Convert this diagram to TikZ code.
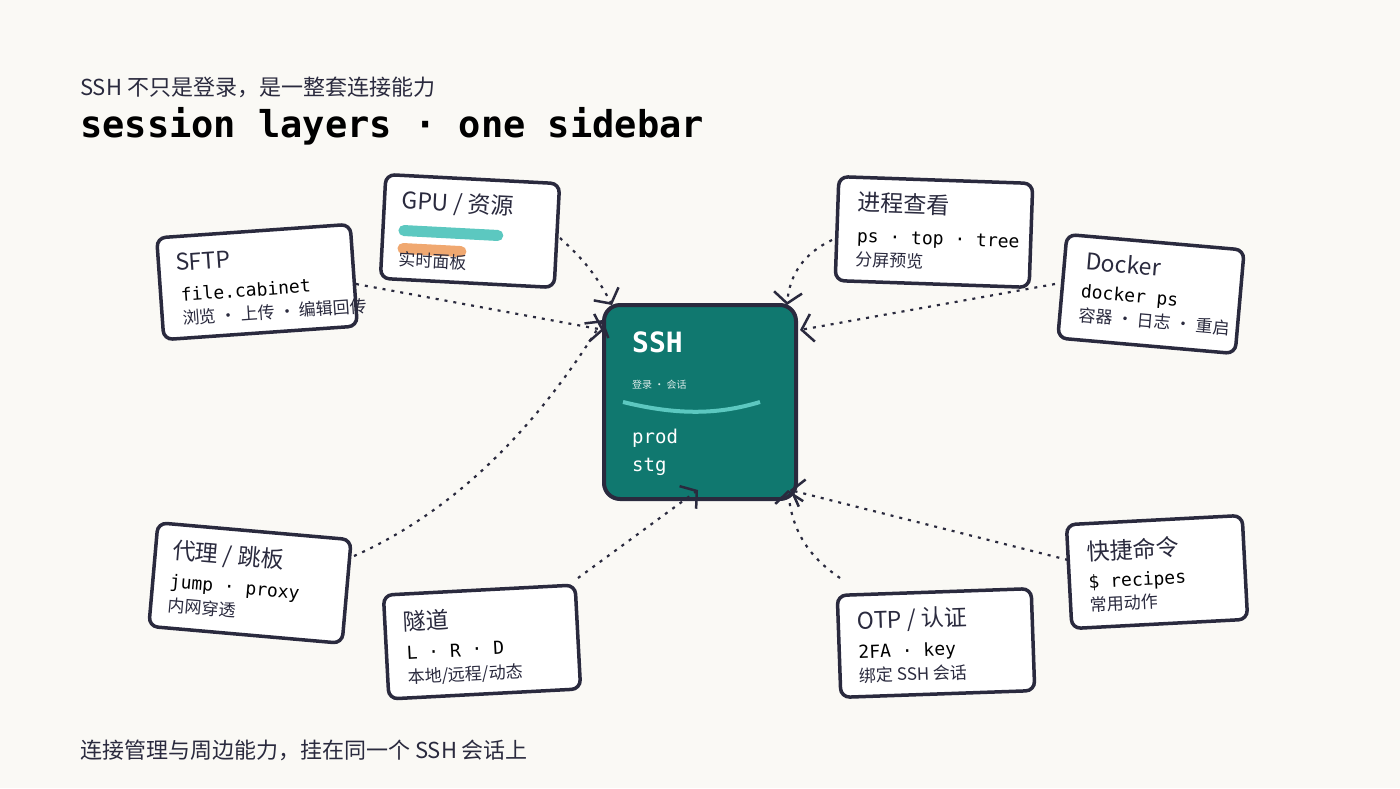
\documentclass[tikz,border=0pt]{standalone}
\usepackage{fontspec}
\setmainfont{Noto Sans CJK SC}
\setsansfont{Noto Sans CJK SC}
\setmonofont{DejaVu Sans Mono}
\usetikzlibrary{arrows.meta}
\definecolor{bg}{HTML}{FAF9F5}
\definecolor{ink}{HTML}{2A2A3E}
\definecolor{tealbox}{HTML}{10786F}
\definecolor{lteal}{HTML}{5CC8C0}
\definecolor{orng}{HTML}{F0A870}
\begin{document}
\begin{tikzpicture}[x=1pt,y=-1pt,
  card/.style={draw=ink,line width=3.5pt,fill=white,rounded corners=9pt,inner sep=0pt},
  ttl/.style={anchor=north west,inner sep=0pt,font=\fontsize{23}{25}\selectfont,text=ink},
  mono/.style={anchor=north west,inner sep=0pt,font=\ttfamily\fontsize{18}{20}\selectfont,text=black},
  sm/.style={anchor=north west,inner sep=0pt,font=\fontsize{17}{19}\selectfont,text=ink},
  conn/.style={ink,line width=2.2pt,dash pattern=on 3pt off 6pt,-{Straight Barb[length=11pt,width=28pt,line width=2.5pt]}}]
\fill[bg] (0,0) rectangle (1400,788);
\useasboundingbox (0,0) rectangle (1400,788);
\node[anchor=base west,inner sep=0pt,font=\fontsize{22}{24}\selectfont,text=ink] (sub) at (80,95) {SSH 不只是登录，是一整套连接能力};
\node[anchor=base west,inner sep=0pt,font=\ttfamily\bfseries\fontsize{37}{40}\selectfont] (title) at (80,137) {session layers · one sidebar};
\node[anchor=base west,inner sep=0pt,font=\fontsize{22}{24}\selectfont,text=ink] (foot) at (80,758) {连接管理与周边能力，挂在同一个 SSH 会话上};

% SSH center
\node[draw=ink,line width=4pt,fill=tealbox,rounded corners=16pt,minimum width=192pt,minimum height=194pt] (ssh) at (700,402) {};
\node[anchor=base west,inner sep=0pt,text=white,font=\ttfamily\bfseries\fontsize{28}{30}\selectfont] (sshT) at (632,352) {SSH};
\node[anchor=base west,inner sep=0pt,text=white!85!tealbox,font=\fontsize{10}{12}\selectfont] (sshS) at (632,388) {登录 · 会话};
\draw[lteal,line width=4pt] (623,402) .. controls (680,416) and (720,414) .. (760,402);
\node[anchor=base west,inner sep=0pt,text=white,font=\ttfamily\fontsize{19}{22}\selectfont] (prod) at (632,443) {prod};
\node[anchor=base west,inner sep=0pt,text=white,font=\ttfamily\fontsize{19}{22}\selectfont] (stg) at (632,471) {stg};

% SFTP
\begin{scope}[shift={(257,282)},rotate=4,transform shape]
\node[card,minimum width=194pt,minimum height=102pt] (sftp) at (0,0) {};
\node[ttl] at (-80,-34) {SFTP};
\node[mono] at (-77,0) {file.cabinet};
\node[sm] at (-77,23) {浏览 · 上传 · 编辑回传};
\end{scope}
% GPU
\begin{scope}[shift={(470,231)},rotate=-3,transform shape]
\node[card,minimum width=174pt,minimum height=104pt] (gpu) at (0,0) {};
\node[ttl] at (-70,-38) {GPU / 资源};
\draw[lteal,line width=11pt,line cap=round] (-66,3) -- (28,3);
\draw[orng,line width=11pt,line cap=round] (-66,21) -- (-8,21);
\node[sm] at (-70,24) {实时面板};
\end{scope}
% 进程查看
\begin{scope}[shift={(934,232)},rotate=-2,transform shape]
\node[card,minimum width=194pt,minimum height=104pt] (proc) at (0,0) {};
\node[ttl] at (-77,-38) {进程查看};
\node[mono] at (-77,0) {ps · top · tree};
\node[sm] at (-77,22) {分屏预览};
\end{scope}
% Docker
\begin{scope}[shift={(1151,294)},rotate=-5,transform shape]
\node[card,minimum width=178pt,minimum height=104pt] (docker) at (0,0) {};
\node[ttl] at (-68,-37) {Docker};
\node[mono] at (-70,-4) {docker ps};
\node[sm] at (-70,19) {容器 · 日志 · 重启};
\end{scope}
% 代理
\begin{scope}[shift={(250,583)},rotate=-5,transform shape]
\node[card,minimum width=194pt,minimum height=104pt] (proxy) at (0,0) {};
\node[ttl] at (-80,-37) {代理 / 跳板};
\node[mono] at (-80,-2) {jump · proxy};
\node[sm] at (-80,21) {内网穿透};
\end{scope}
% 隧道
\begin{scope}[shift={(482,642)},rotate=3,transform shape]
\node[card,minimum width=192pt,minimum height=104pt] (tunnel) at (0,0) {};
\node[ttl] at (-78,-35) {隧道};
\node[mono] at (-76,0) {L · R · D};
\node[sm] at (-76,23) {本地/远程/动态};
\end{scope}
% OTP
\begin{scope}[shift={(936,643)},rotate=2,transform shape]
\node[card,minimum width=194pt,minimum height=102pt] (otp) at (0,0) {};
\node[ttl] at (-78,-36) {OTP / 认证};
\node[mono] at (-78,-1) {2FA · key};
\node[sm] at (-78,22) {绑定 SSH 会话};
\end{scope}
% 快捷命令
\begin{scope}[shift={(1157,572)},rotate=3,transform shape]
\node[card,minimum width=176pt,minimum height=104pt] (quick) at (0,0) {};
\node[ttl] at (-69,-35) {快捷命令};
\node[mono] at (-69,-1) {\$ recipes};
\node[sm] at (-69,21) {常用动作};
\end{scope}

\coordinate (a1) at (604,330);
\coordinate (a2) at (612,305);
\coordinate (a3) at (787,305);
\coordinate (a4) at (800,330);
\coordinate (a5) at (603,320);
\coordinate (a6) at (698,490);
\coordinate (a7) at (788,490);
\coordinate (a8) at (790,490);
\draw[conn] (356,284) -- (a1);
\draw[conn] (560,238) to[bend left=10] (a2);
\draw[conn] (832,240) to[bend right=30] (a3);
\draw[conn] (1055,284) -- (a4);
\draw[conn] (354,556) .. controls (480,500) and (560,390) .. (a5);
\draw[conn] (578,578) -- (a6);
\draw[conn] (840,578) to[bend left=25] (a7);
\draw[conn] (1068,560) -- (a8);
\end{tikzpicture}
\end{document}
